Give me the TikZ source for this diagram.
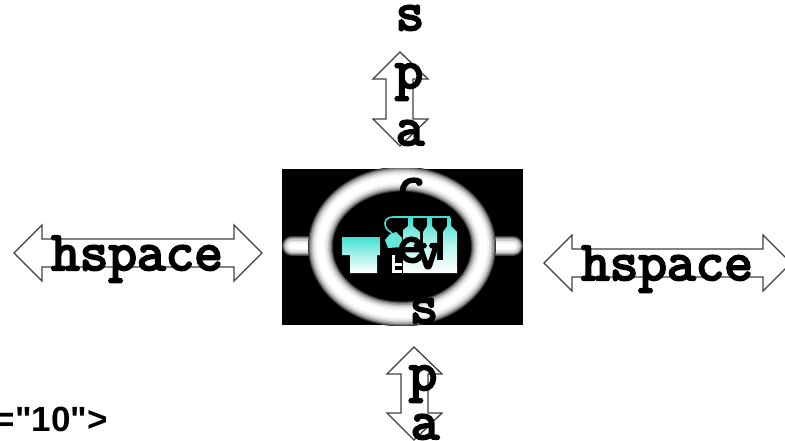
\documentclass[tikz,border=0pt]{standalone}
\usepackage{fontspec}
\newfontfamily\fragfont{Liberation Sans}[Ligatures=NoCommon]
\newfontfamily\slabfont{Latin Modern Mono}[FakeBold=4]
\usetikzlibrary{calc}
\tikzset{
  x=1pt,y=-1pt,
  arrowshape/.style={draw=black!75,line width=1.3pt,line join=miter},
  monotext/.style={inner sep=0pt,font=\fontsize{55.5}{55.5}\slabfont,text=black},
  lettertext/.style={monotext,anchor=base},
}
\definecolor{iconcyan}{HTML}{3FE0D0}
\begin{document}
\begin{tikzpicture}
\useasboundingbox (0,0) rectangle (785,441);
\clip (0,0) rectangle (785,441);
% icon
\fill[black] (282,169) rectangle (523,325);
\begin{scope}
\clip (282,169) rectangle (523,325);
\foreach \w/\g in {20/25,18/45,16/65,14/80,11/90,8/97,5/100}{
  \draw[white!\g!black,line width=\w pt,line cap=round] (292,246) -- (320,246);
  \draw[white!\g!black,line width=\w pt,line cap=round] (484,246) -- (513,246);
}
\foreach \w/\g in {25/20,23/40,21/60,18/75,15/88,11/96,7/100}{
  \draw[white!\g!black,line width=\w pt] (402,246.5) ellipse [x radius=81.5,y radius=67.5];
}
\end{scope}
% icon pictogram
\fill[top color=iconcyan,bottom color=white,middle color=iconcyan!45!white] (342,237) -- (380,237) -- (380,255) -- (377,255) -- (377,273) -- (350,273) -- (350,255) -- (342,255) -- cycle;
\fill[top color=iconcyan,bottom color=white,middle color=iconcyan!35!white] (403,273) -- (403,230) -- (408,226) -- (408,218) -- (413,218) -- (413,226) -- (420,232) -- (420,252) -- (423,252) -- (423,232) -- (427,226) -- (427,218) -- (432,218) -- (432,226) -- (437,232) -- (437,260) -- (443,260) -- (443,232) -- (447,226) -- (447,218) -- (451,218) -- (451,226) -- (457,232) -- (457,273) -- cycle;
\fill[iconcyan!80!white] (385,240) -- (390,234) -- (396,232) -- (402,238) -- (402,247) -- (388,248) -- cycle;
\fill[white] (392,255) rectangle (395,273);
\fill[white] (395,263) rectangle (402,266);
\fill[white] (395,270) rectangle (402,273);
\draw[iconcyan,line width=1.6pt] (392,233) .. controls (382,228) and (383,217) .. (393,217) -- (450,217);
% arrows
\draw[arrowshape] (14,253) -- (42,225) -- (42,239) -- (234,239) -- (234,225) -- (262,253) -- (234,281) -- (234,267) -- (42,267) -- (42,281) -- cycle;
\draw[arrowshape] (544,263) -- (572,235) -- (572,249) -- (763,249) -- (763,235) -- (791,263) -- (763,291) -- (763,277) -- (572,277) -- (572,291) -- cycle;
\draw[arrowshape] (400,52) -- (428,79) -- (413,79) -- (413,119) -- (428,119) -- (400,146) -- (373,119) -- (386,119) -- (386,79) -- (373,79) -- cycle;
\draw[arrowshape] (414,347) -- (442,374) -- (428,374) -- (428,413) -- (442,413) -- (414,440) -- (387,413) -- (401,413) -- (401,374) -- (387,374) -- cycle;
% text
\node[monotext,anchor=base] (hl) at (137,270) {hspace};
\node[monotext,anchor=base] (hr) at (667,280) {hspace};
\node[lettertext] (s1) at (410,30) {s};
\node[lettertext] (p1) at (409,88) {p};
\node[lettertext] (a1) at (410,145) {a};
\node[lettertext] (c1) at (411,203) {c};
\node[lettertext] (e1) at (411,262) {e};
\node[lettertext] (v1) at (428,268) {v};
\node[lettertext] (s2) at (424,323) {s};
\node[lettertext] (p2) at (423,390) {p};
\node[lettertext] (a2) at (425,439) {a};
\node[inner sep=0pt,anchor=base east,font=\fontsize{35}{35}\fragfont\bfseries] (frag) at (108,431) {="10">};
\end{tikzpicture}
\end{document}
